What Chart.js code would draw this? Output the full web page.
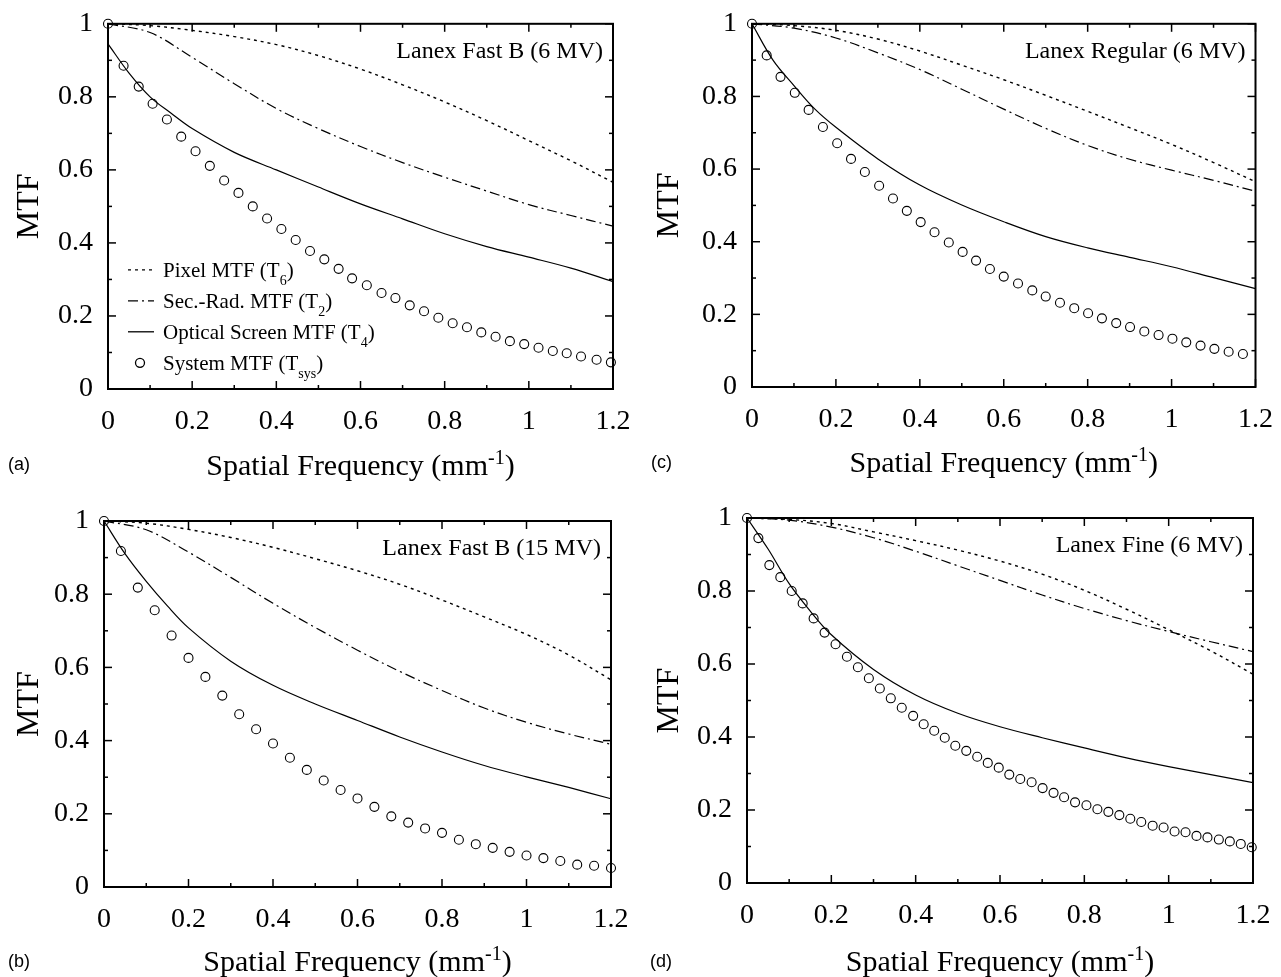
<!DOCTYPE html>
<html lang="en">
<head>
<meta charset="UTF-8">
<title>MTF of Lanex screens</title>
<script src="https://cdn.jsdelivr.net/npm/chart.js"></script>
<style>
  body { margin: 0; background: #fff; }
  #fig { position: relative; width: 1281px; height: 977px; }
  canvas { position: absolute; }
  .tag { position: absolute; font: 18px "Liberation Sans", Arial, sans-serif; color: #000; }
</style>
</head>
<body>
<div id="fig">
  <canvas id="chartA" width="640" height="488" style="left:0px;top:0px"></canvas>
  <canvas id="chartC" width="641" height="488" style="left:640px;top:0px"></canvas>
  <canvas id="chartB" width="640" height="489" style="left:0px;top:488px"></canvas>
  <canvas id="chartD" width="641" height="489" style="left:640px;top:488px"></canvas>
  <span class="tag" style="left:8px;top:454px">(a)</span>
  <span class="tag" style="left:651px;top:452px">(c)</span>
  <span class="tag" style="left:8px;top:951px">(b)</span>
  <span class="tag" style="left:650px;top:951px">(d)</span>
</div>

<script>
// ------------------------------------------------
// data (MTF vs spatial frequency, mm^-1)
const freqLine  = [0, 0.1, 0.2, 0.3, 0.4, 0.5, 0.6, 0.7, 0.8, 0.9, 1.0, 1.1, 1.2];
const freqSolid = [0, 0.05, 0.1, 0.15, 0.2, 0.3, 0.4, 0.5, 0.6, 0.7, 0.8, 0.9, 1.0, 1.1, 1.2];
const xTicks = [0, 0.2, 0.4, 0.6, 0.8, 1, 1.2];
const yTicks = [0, 0.2, 0.4, 0.6, 0.8, 1];

// (a) Lanex Fast B (6 MV)
const pixelA   = [1, 0.995, 0.982, 0.965, 0.943, 0.913, 0.876, 0.833, 0.786, 0.735, 0.68, 0.625, 0.566];
const secRadA  = [1, 0.976, 0.908, 0.836, 0.768, 0.713, 0.664, 0.62, 0.58, 0.542, 0.505, 0.475, 0.446];
const opticalA = [0.945, 0.865, 0.8, 0.755, 0.713, 0.648, 0.6, 0.553, 0.507, 0.466, 0.425, 0.39, 0.361, 0.331, 0.294];
const sysFreqA = [0, 0.037, 0.073, 0.106, 0.14, 0.174, 0.208, 0.242, 0.276, 0.31, 0.344, 0.378, 0.412, 0.446, 0.48, 0.514, 0.548, 0.58,
                  0.615, 0.65, 0.683, 0.717, 0.751, 0.785, 0.819, 0.853, 0.887, 0.921, 0.955, 0.989, 1.023, 1.057, 1.09, 1.124, 1.161, 1.195];
const systemA  = [1.0, 0.885, 0.828, 0.781, 0.738, 0.691, 0.651, 0.611, 0.571, 0.537, 0.5, 0.467, 0.438, 0.408, 0.378, 0.355, 0.329, 0.303,
                  0.284, 0.263, 0.249, 0.229, 0.213, 0.195, 0.18, 0.169, 0.155, 0.143, 0.131, 0.123, 0.113, 0.104, 0.098, 0.089, 0.08, 0.073];

// (c) Lanex Regular (6 MV)
const pixelC   = [1, 0.995, 0.982, 0.958, 0.925, 0.886, 0.846, 0.803, 0.759, 0.714, 0.668, 0.618, 0.565];
const secRadC  = [1, 0.988, 0.961, 0.92, 0.874, 0.82, 0.765, 0.712, 0.665, 0.627, 0.597, 0.569, 0.539];
const opticalC = [1, 0.9, 0.83, 0.765, 0.715, 0.628, 0.556, 0.501, 0.455, 0.414, 0.383, 0.357, 0.331, 0.301, 0.271];
const sysFreqC = [0, 0.035, 0.068, 0.102, 0.135, 0.169, 0.203, 0.236, 0.269, 0.303, 0.336, 0.369, 0.402, 0.435, 0.469, 0.502, 0.534, 0.567,
                  0.6, 0.634, 0.668, 0.7, 0.734, 0.768, 0.801, 0.834, 0.868, 0.901, 0.935, 0.969, 1.002, 1.035, 1.069, 1.102, 1.136, 1.17];
const systemC  = [1.0, 0.913, 0.854, 0.81, 0.763, 0.716, 0.671, 0.628, 0.592, 0.554, 0.519, 0.485, 0.454, 0.426, 0.398, 0.372, 0.348, 0.325,
                  0.304, 0.285, 0.266, 0.249, 0.232, 0.217, 0.203, 0.189, 0.176, 0.165, 0.153, 0.143, 0.133, 0.123, 0.114, 0.105, 0.097, 0.091];

// (b) Lanex Fast B (15 MV)
const pixelB   = [1, 0.994, 0.977, 0.955, 0.928, 0.897, 0.864, 0.827, 0.784, 0.738, 0.69, 0.634, 0.566];
const secRadB  = [1, 0.976, 0.915, 0.846, 0.775, 0.709, 0.647, 0.589, 0.537, 0.489, 0.45, 0.418, 0.39];
const opticalB = [1, 0.91, 0.835, 0.768, 0.708, 0.617, 0.551, 0.5, 0.455, 0.41, 0.369, 0.332, 0.301, 0.272, 0.241];
const sysFreqB = [0, 0.04, 0.08, 0.12, 0.16, 0.2, 0.24, 0.28, 0.32, 0.36, 0.4, 0.44, 0.48, 0.52, 0.56, 0.6,
                  0.64, 0.68, 0.72, 0.76, 0.8, 0.84, 0.88, 0.92, 0.96, 1.0, 1.04, 1.08, 1.12, 1.16, 1.2];
const systemB  = [1.0, 0.918, 0.818, 0.756, 0.687, 0.626, 0.574, 0.523, 0.472, 0.431, 0.392, 0.353, 0.32, 0.291, 0.265, 0.242,
                  0.219, 0.193, 0.176, 0.16, 0.148, 0.129, 0.117, 0.107, 0.096, 0.086, 0.079, 0.071, 0.061, 0.058, 0.052];

// (d) Lanex Fine (6 MV)
const pixelD   = [1, 0.996, 0.985, 0.962, 0.938, 0.912, 0.882, 0.846, 0.802, 0.75, 0.694, 0.636, 0.572];
const secRadD  = [1, 0.994, 0.975, 0.946, 0.909, 0.869, 0.829, 0.789, 0.752, 0.719, 0.689, 0.661, 0.634];
const opticalD = [1, 0.915, 0.82, 0.745, 0.68, 0.585, 0.515, 0.465, 0.428, 0.398, 0.37, 0.343, 0.319, 0.297, 0.275];
const sysFreqD = [0, 0.027, 0.053, 0.079, 0.106, 0.132, 0.158, 0.184, 0.21, 0.237, 0.263, 0.289, 0.315, 0.341, 0.367, 0.394,
                  0.419, 0.444, 0.469, 0.494, 0.52, 0.546, 0.571, 0.597, 0.622, 0.648, 0.675, 0.701, 0.727, 0.752, 0.778,
                  0.805, 0.831, 0.857, 0.883, 0.909, 0.935, 0.962, 0.988, 1.014, 1.04, 1.066, 1.092, 1.119, 1.145, 1.171, 1.197];
const systemD  = [1.0, 0.945, 0.871, 0.838, 0.8, 0.766, 0.725, 0.686, 0.654, 0.62, 0.591, 0.561, 0.533, 0.506, 0.48, 0.458,
                  0.435, 0.417, 0.398, 0.376, 0.362, 0.346, 0.329, 0.316, 0.297, 0.285, 0.276, 0.26, 0.247, 0.235, 0.221,
                  0.213, 0.202, 0.195, 0.186, 0.176, 0.167, 0.157, 0.152, 0.141, 0.139, 0.129, 0.125, 0.119, 0.114, 0.107, 0.098];

const legendItems = [
    { style: 'dot',     parts: [['Pixel MTF (T'], ['6', 1], [')']] },
    { style: 'dashdot', parts: [['Sec.-Rad. MTF (T'], ['2', 1], [')']] },
    { style: 'solid',   parts: [['Optical Screen MTF (T'], ['4', 1], [')']] },
    { style: 'circle',  parts: [['System MTF (T'], ['sys', 1], [')']] }
];

// ------------------------------------------------
const SERIF = '"Liberation Serif", "Times New Roman", serif';
const dashDot = [10, 4, 2, 4];
const dotted = [3, 4];

// text with subscripts / superscripts: parts = [text, 1 (sub) | 2 (sup)]
function richWidth(ctx, parts, size) {
    let w = 0;
    parts.forEach(p => {
        ctx.font = (p[1] ? Math.round(size * 0.66) : size) + 'px ' + SERIF;
        w += ctx.measureText(p[0]).width;
    });
    return w;
}
function drawRich(ctx, parts, x, y, size, align) {
    let cx = align === 'center' ? x - richWidth(ctx, parts, size) / 2 : x;
    ctx.textAlign = 'left';
    ctx.textBaseline = 'alphabetic';
    parts.forEach(p => {
        const small = p[1] ? Math.round(size * 0.66) : size;
        ctx.font = small + 'px ' + SERIF;
        let dy = 0;
        if (p[1] === 1) dy = size * 0.38;
        if (p[1] === 2) dy = -size * 0.36;
        ctx.fillText(p[0], cx, y + dy);
        cx += ctx.measureText(p[0]).width;
    });
}
function seg(ctx, x1, y1, x2, y2) {
    ctx.beginPath();
    ctx.moveTo(x1, y1);
    ctx.lineTo(x2, y2);
    ctx.stroke();
}

// frame, inward ticks, titles and legend, drawn the way the journal figure looks
const paperFrame = {
    id: 'paperFrame',
    afterDraw(chart, args, opts) {
        const ctx = chart.ctx, a = chart.chartArea;
        const xs = chart.scales.x, ys = chart.scales.y;
        ctx.save();
        ctx.strokeStyle = '#000';
        ctx.fillStyle = '#000';
        ctx.setLineDash([]);
        ctx.lineWidth = 1.5;
        for (let i = 0; i <= 12; i++) {
            const px = xs.getPixelForValue(i / 10);
            const len = i % 2 ? 4 : 8;
            seg(ctx, px, a.bottom, px, a.bottom - len);
            seg(ctx, px, a.top, px, a.top + len);
        }
        for (let i = 0; i <= 10; i++) {
            const py = ys.getPixelForValue(i / 10);
            const len = i % 2 ? 4 : 8;
            seg(ctx, a.left, py, a.left + len, py);
            seg(ctx, a.right, py, a.right - len, py);
        }
        ctx.lineWidth = 2;
        ctx.strokeRect(a.left, a.top, a.right - a.left, a.bottom - a.top);

        // axis titles
        ctx.save();
        ctx.translate(opts.yTitleX, (a.top + a.bottom) / 2);
        ctx.rotate(-Math.PI / 2);
        ctx.font = '32px ' + SERIF;
        ctx.textAlign = 'center';
        ctx.textBaseline = 'middle';
        ctx.fillText('MTF', 0, 0);
        ctx.restore();
        drawRich(ctx, [['Spatial Frequency (mm'], ['-1', 2], [')']], (a.left + a.right) / 2, a.bottom + opts.xTitleDy, 30, 'center');

        // screen name inside the plot
        ctx.font = '24px ' + SERIF;
        ctx.textAlign = 'right';
        ctx.textBaseline = 'middle';
        ctx.fillText(opts.label, a.right - 10, a.top + 28);

        if (opts.legend) {
            const x0 = a.left + 20, x1 = a.left + 46, tx = a.left + 55;
            legendItems.forEach((item, i) => {
                const y = a.top + 246 + i * 31;
                ctx.lineWidth = 1.3;
                if (item.style === 'circle') {
                    ctx.setLineDash([]);
                    ctx.beginPath();
                    ctx.arc(a.left + 32, y, 4.5, 0, Math.PI * 2);
                    ctx.stroke();
                } else {
                    ctx.setLineDash(item.style === 'dot' ? dotted : item.style === 'dashdot' ? dashDot : []);
                    seg(ctx, x0, y, x1, y);
                }
                ctx.setLineDash([]);
                drawRich(ctx, item.parts, tx, y + 7, 21, 'left');
            });
        }
        ctx.restore();
    }
};

function xy(xs, ys) {
    return xs.map((x, i) => ({ x: x, y: ys[i] }));
}

function tickText(v) {
    return String(parseFloat(v.toFixed(1)));
}

function createPanel(id, geo, label, pixel, secRad, optical, sysFreq, system, legend) {
    const ctx = document.getElementById(id);
    return new Chart(ctx, {
        type: 'scatter',
        data: {
            datasets: [
                { label: 'Pixel MTF', data: xy(freqLine, pixel), showLine: true, borderDash: dotted,
                  borderColor: '#000', borderWidth: 1.4, pointRadius: 0, tension: 0.35 },
                { label: 'Sec.-Rad. MTF', data: xy(freqLine, secRad), showLine: true, borderDash: dashDot,
                  borderColor: '#000', borderWidth: 1.2, pointRadius: 0, tension: 0.35 },
                { label: 'Optical Screen MTF', data: xy(freqSolid, optical), showLine: true,
                  borderColor: '#000', borderWidth: 1.2, pointRadius: 0, tension: 0.35 },
                { label: 'System MTF', data: xy(sysFreq, system), showLine: false, clip: false,
                  pointStyle: 'circle', pointRadius: 4.5, borderColor: '#000', borderWidth: 1.1,
                  backgroundColor: 'rgba(0,0,0,0)' }
            ]
        },
        options: {
            responsive: false,
            animation: false,
            layout: { padding: { top: geo.top, right: geo.right, left: 0, bottom: 0 } },
            plugins: {
                legend: { display: false },
                tooltip: { enabled: false },
                paperFrame: { label: label, legend: legend, yTitleX: 30, xTitleDy: geo.xTitleDy }
            },
            scales: {
                x: {
                    type: 'linear', min: 0, max: 1.2,
                    afterBuildTicks: s => { s.ticks = xTicks.map(v => ({ value: v })); },
                    afterFit: s => { s.height = geo.xAxisH; },
                    grid: { display: false },
                    border: { display: false },
                    ticks: { color: '#000', padding: geo.xPad, maxRotation: 0, autoSkip: false,
                             font: { family: SERIF, size: 28 }, callback: v => tickText(v) }
                },
                y: {
                    type: 'linear', min: 0, max: 1,
                    afterBuildTicks: s => { s.ticks = yTicks.map(v => ({ value: v })); },
                    afterFit: s => { s.width = geo.left; },
                    grid: { display: false },
                    border: { display: false },
                    ticks: { color: '#000', padding: 7, font: { family: SERIF, size: 28 }, callback: v => tickText(v) }
                }
            }
        },
        plugins: [paperFrame]
    });
}

window.onload = () => {
    createPanel('chartA', { left: 108, top: 23, right: 27, xAxisH: 99, xPad: 8, xTitleDy: 86 },
                'Lanex Fast B (6 MV)', pixelA, secRadA, opticalA, sysFreqA, systemA, true);
    createPanel('chartC', { left: 112, top: 22, right: 25, xAxisH: 101, xPad: 8, xTitleDy: 85 },
                'Lanex Regular (6 MV)', pixelC, secRadC, opticalC, sysFreqC, systemC, false);
    createPanel('chartB', { left: 104, top: 33, right: 29, xAxisH: 90, xPad: 8, xTitleDy: 84 },
                'Lanex Fast B (15 MV)', pixelB, secRadB, opticalB, sysFreqB, systemB, false);
    createPanel('chartD', { left: 107, top: 30, right: 28, xAxisH: 94, xPad: 8, xTitleDy: 88 },
                'Lanex Fine (6 MV)', pixelD, secRadD, opticalD, sysFreqD, systemD, false);
};
</script>
</body>
</html>
